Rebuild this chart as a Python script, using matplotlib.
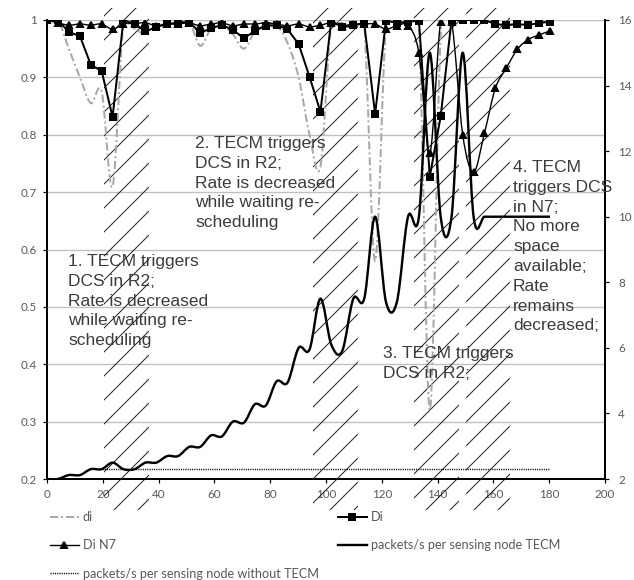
import matplotlib
matplotlib.use('Agg')
import matplotlib.pyplot as plt
from matplotlib.path import Path
from matplotlib.patches import PathPatch, Rectangle
from matplotlib.lines import Line2D

# time axis (s)
t = [0.0, 3.9, 7.8, 11.8, 15.7, 19.6, 23.5, 27.4, 31.4, 35.3,
     39.2, 43.1, 47.0, 51.0, 54.9, 58.8, 62.7, 66.6, 70.6, 74.5,
     78.4, 82.3, 86.2, 90.2, 94.1, 98.0, 101.9, 105.8, 109.8, 113.7,
     117.6, 121.5, 125.4, 129.4, 133.3, 137.2, 141.1, 145.0, 149.0, 152.9,
     156.8, 160.7, 164.6, 168.6, 172.5, 176.4, 180.3]

di = [1.0, 1.0, 0.95, 0.90, 0.855, 0.875, 0.71, 0.99, 0.985, 0.975,
      0.99, 0.993, 0.995, 0.997, 0.955, 0.985, 0.99, 0.975, 0.95, 0.98,
      0.99, 0.99, 0.96, 0.90, 0.80, 0.745, 0.995, 0.987, 0.991, 0.99,
      0.58, 0.99, 0.995, 0.997, 0.99, 0.32, 0.97, 1.0, 1.0, 1.0,
      1.0, 0.993, 0.991, 0.993, 0.991, 0.995, 0.997]

Di = [1.0, 1.0, 0.979, 0.972, 0.922, 0.911, 0.831, 1.0, 0.993, 0.98,
      0.988, 0.993, 0.995, 0.997, 0.977, 0.986, 0.991, 0.983, 0.968, 0.981,
      0.99, 0.991, 0.984, 0.958, 0.901, 0.84, 0.999, 0.987, 0.991, 0.994,
      0.836, 0.999, 0.995, 0.997, 0.999, 0.727, 0.832, 1.0, 1.0, 1.0,
      1.0, 0.993, 0.991, 0.993, 0.991, 0.995, 0.997]

DiN7 = [1.0, 0.995, 0.991, 0.993, 0.991, 0.993, 0.984, 0.993, 0.994, 0.995,
        0.99, 0.993, 0.993, 0.995, 0.99, 0.993, 0.995, 0.99, 0.993, 0.993,
        0.995, 0.993, 0.99, 0.993, 0.988, 0.991, 0.995, 0.99, 0.993, 0.993,
        0.993, 0.984, 0.99, 0.99, 0.942, 0.768, 0.997, 0.997, 0.80, 0.735,
        0.803, 0.881, 0.916, 0.949, 0.966, 0.974, 0.981]

pkt = [2.0, 2.0, 2.12, 2.12, 2.3, 2.3, 2.5, 2.3, 2.3, 2.5,
       2.5, 2.7, 2.7, 2.98, 2.98, 3.33, 3.3, 3.75, 3.72, 4.28,
       4.24, 4.98, 4.94, 6.0, 5.95, 7.5, 6.1, 5.9, 7.5, 7.5,
       10.0, 7.4, 7.4, 10.0, 10.0, 15.0, 10.0, 10.0, 15.0, 10.0,
       10.0, 10.0, 10.0, 10.0, 10.0, 10.0, 10.0]

t_nodcs = t[5:]
pkt_nodcs = [2.3] * len(t_nodcs)

# hatched DCS periods
dcs_start = [20.5, 95.5, 131.5, 150.0]
dcs_len = 16.1

xticks = [0, 20, 40, 60, 80, 100, 120, 140, 160, 180, 200]
yticks = [0.2, 0.3, 0.4, 0.5, 0.6, 0.7, 0.8, 0.9, 1.0]
ylabels = ['0.2', '0.3', '0.4', '0.5', '0.6', '0.7', '0.8', '0.9', '1']
y2ticks = [2, 4, 6, 8, 10, 12, 14, 16]

notes = [
    (68, 254, "1. TECM triggers\nDCS in R2;\nRate is decreased\nwhile waiting re-\nscheduling"),
    (195, 136, "2. TECM triggers\nDCS in R2;\nRate is decreased\nwhile waiting re-\nscheduling"),
    (383, 346, "3. TECM triggers\nDCS in R2;"),
    (513, 160, "4. TECM\ntriggers DCS\nin N7;\nNo more\nspace\navailable;\nRate\nremains\ndecreased;"),
]


def smooth(xs, ys):
    # excel style smoothed line as cubic bezier
    n = len(xs)
    verts = [(xs[0], ys[0])]
    codes = [Path.MOVETO]
    for i in range(n - 1):
        a = max(i - 1, 0)
        d = min(i + 2, n - 1)
        verts.append((xs[i] + (xs[i + 1] - xs[a]) / 6, ys[i] + (ys[i + 1] - ys[a]) / 6))
        verts.append((xs[i + 1] - (xs[d] - xs[i]) / 6, ys[i + 1] - (ys[d] - ys[i]) / 6))
        verts.append((xs[i + 1], ys[i + 1]))
        codes += [Path.CURVE4] * 3
    return Path(verts, codes)


plt.rcParams['font.family'] = ['Lato', 'DejaVu Sans']
plt.rcParams['hatch.linewidth'] = 0.5

W, H = 634, 580
fig = plt.figure(figsize=(W / 144, H / 144), dpi=144)
ax = fig.add_axes([47 / W, 101 / H, 558 / W, 459 / H])
ax2 = ax.twinx()

ax.set_xlim(0, 200)
ax.set_ylim(0.2, 1.0)
ax2.set_ylim(2, 16)

ax.yaxis.grid(True, color='#c0c0c0', lw=0.7)
ax.set_axisbelow(True)

for s in dcs_start:
    ax.add_patch(Rectangle((s, 0.146), dcs_len, 0.875, fill=False, hatch='//',
                           edgecolor='#202020', lw=0, clip_on=False, zorder=1))

gray = '#a8a8a8'
ax.add_patch(PathPatch(smooth(t, di), fill=False, edgecolor=gray, lw=1.0,
                       linestyle=(0, (4, 1.5, 1, 1.5)), zorder=2))
ax.plot(t, Di, color='black', lw=1.0, marker='s', ms=3.4, zorder=4)
ax.add_patch(PathPatch(smooth(t, DiN7), fill=False, edgecolor='black', lw=0.7, zorder=3))
ax.plot(t, DiN7, ls='none', color='black', marker='^', ms=3.0, zorder=3)

ax2.add_patch(PathPatch(smooth(t, pkt), fill=False, edgecolor='black', lw=1.2, zorder=3))
ax2.plot(t_nodcs, pkt_nodcs, color='black', lw=0.7, ls=(0, (0.8, 0.8)))

ax.set_xticks(xticks)
ax.set_xticklabels([str(v) for v in xticks])
ax.set_yticks(yticks)
ax.set_yticklabels(ylabels)
ax2.set_yticks(y2ticks)
ax2.set_yticklabels([str(v) for v in y2ticks])

for a in (ax, ax2):
    a.tick_params(direction='out', length=2, width=0.6, color='black',
                  labelcolor='#595959', labelsize=5.8, pad=3)
    a.spines['top'].set_visible(False)
ax.spines['right'].set_visible(False)
ax2.spines['left'].set_visible(False)
ax2.spines['bottom'].set_visible(False)
ax.spines['left'].set_linewidth(1.0)
ax.spines['bottom'].set_linewidth(1.0)
ax2.spines['right'].set_linewidth(1.0)
ax2.tick_params(pad=4.5)

for x, y, txt in notes:
    fig.text(x / W, 1 - y / H, txt, ha='left', va='top', fontsize=8.7,
             family='Liberation Sans', color='#3c3c3c', linespacing=1.4)

h_di = Line2D([], [], color=gray, lw=1.0, ls=(0, (4, 1.5, 1, 1.5)))
h_Di = Line2D([], [], color='black', lw=1.0, marker='s', ms=3.4)
h_n7 = Line2D([], [], color='black', lw=0.7, marker='^', ms=3.0)
h_pk = Line2D([], [], color='black', lw=1.2)
h_nd = Line2D([], [], color='black', lw=0.7, ls=(0, (0.8, 0.8)))

leg_kw = dict(loc='upper left', frameon=False, fontsize=6.3, handlelength=2.3,
              handletextpad=0.3, labelspacing=1.3, borderpad=0, borderaxespad=0,
              labelcolor='#595959')
fig.legend([h_di, h_n7, h_nd], ['di', 'Di N7', 'packets/s per sensing node without TECM'],
           bbox_to_anchor=(50 / W, 1 - 511 / H), **leg_kw)
fig.legend([h_Di, h_pk], ['Di', 'packets/s per sensing node TECM'],
           bbox_to_anchor=(338 / W, 1 - 511 / H), **leg_kw)

fig.savefig('out.png', dpi=144)
